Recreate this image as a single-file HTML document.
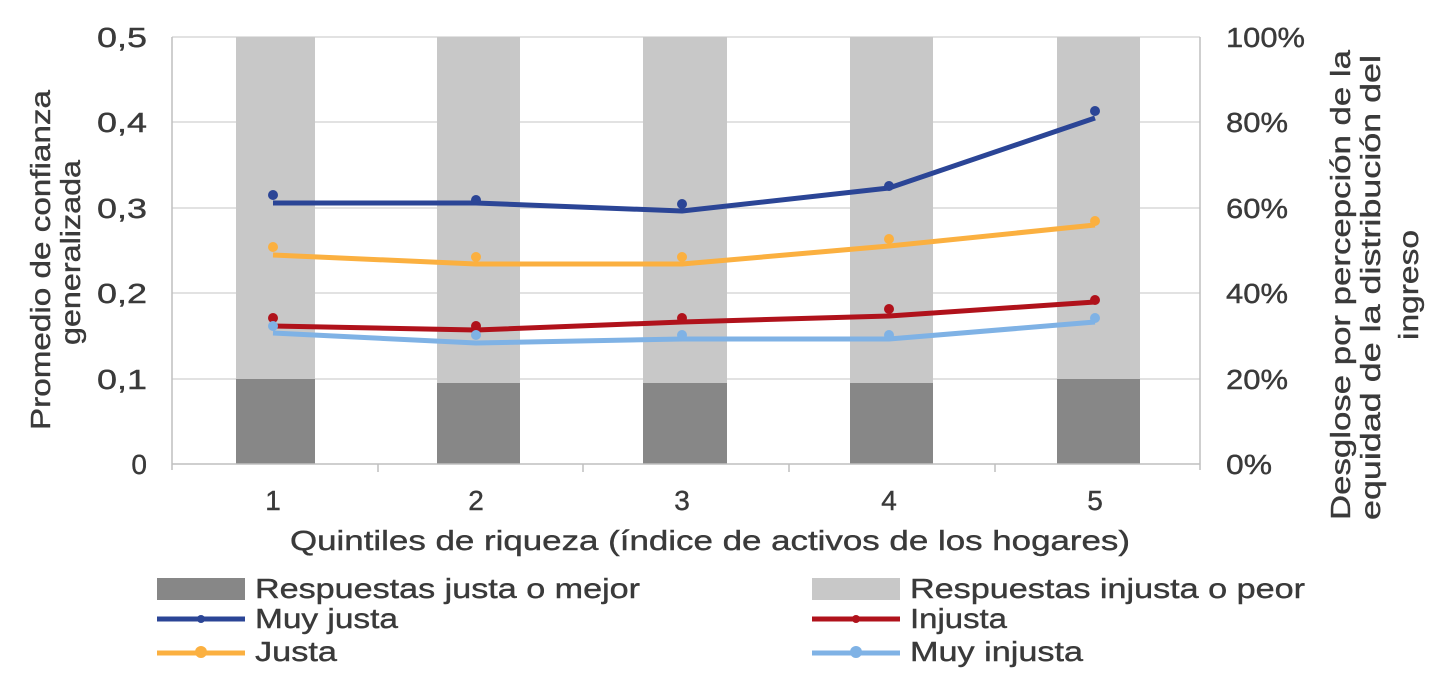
<!DOCTYPE html>
<html><head><meta charset="utf-8"><style>
body{margin:0;background:#fff;}
svg text{font-family:"Liberation Sans",sans-serif;fill:#3a3a3a;stroke:#3a3a3a;stroke-width:0.4;}
</style></head><body>
<svg width="1437" height="670" xmlns="http://www.w3.org/2000/svg">
<g stroke="#d9d9d9" stroke-width="1.5">
<line x1="172" y1="37" x2="1200" y2="37"/><line x1="172" y1="122" x2="1200" y2="122"/>
<line x1="172" y1="208" x2="1200" y2="208"/><line x1="172" y1="293" x2="1200" y2="293"/>
<line x1="172" y1="379" x2="1200" y2="379"/>
</g>
<g fill="#c8c8c8">
<rect x="236" y="37" width="79" height="427"/><rect x="437" y="37" width="83" height="427"/>
<rect x="643" y="37" width="84" height="427"/><rect x="850" y="37" width="83" height="427"/>
<rect x="1057" y="37" width="83" height="427"/>
</g>
<g fill="#878787">
<rect x="236" y="379" width="79" height="85"/><rect x="437" y="383" width="83" height="81"/>
<rect x="643" y="383" width="84" height="81"/><rect x="850" y="383" width="83" height="81"/>
<rect x="1057" y="379" width="83" height="85"/>
</g>
<g stroke="#bfbfbf" stroke-width="1.5">
<line x1="172" y1="37" x2="172" y2="470"/><line x1="1200" y1="37" x2="1200" y2="470"/>
<line x1="172" y1="464" x2="1200" y2="464"/>
<line x1="378" y1="464" x2="378" y2="472"/><line x1="583" y1="464" x2="583" y2="472"/>
<line x1="789" y1="464" x2="789" y2="472"/><line x1="995" y1="464" x2="995" y2="472"/>
</g>
<g fill="none" stroke-width="5" stroke-linejoin="round">
<polyline stroke="#2b4596" points="273,203 476,203 682,211 889,188 1095,118"/>
<polyline stroke="#fbb040" points="273,255 476,264 682,264 889,246 1095,225"/>
<polyline stroke="#b0121b" points="273,326 476,330 682,322 889,316 1095,302"/>
<polyline stroke="#7fb2e5" points="273,333 476,343 682,339 889,339 1095,322"/>
</g>
<g fill="#2b4596"><circle cx="273" cy="195" r="5"/><circle cx="476" cy="200" r="5"/><circle cx="682" cy="204" r="5"/><circle cx="889" cy="186" r="5"/><circle cx="1095" cy="111" r="5"/></g>
<g fill="#fbb040"><circle cx="273" cy="247" r="5"/><circle cx="476" cy="257" r="5"/><circle cx="682" cy="257" r="5"/><circle cx="889" cy="239" r="5"/><circle cx="1095" cy="221" r="5"/></g>
<g fill="#b0121b"><circle cx="273" cy="318" r="5"/><circle cx="476" cy="326" r="5"/><circle cx="682" cy="318" r="5"/><circle cx="889" cy="309" r="5"/><circle cx="1095" cy="300" r="5"/></g>
<g fill="#7fb2e5"><circle cx="273" cy="326" r="5"/><circle cx="476" cy="335" r="5"/><circle cx="682" cy="335" r="5"/><circle cx="889" cy="335" r="5"/><circle cx="1095" cy="318" r="5"/></g>
<g font-size="28" text-anchor="end">
<text x="147" y="47" textLength="50" lengthAdjust="spacingAndGlyphs">0,5</text><text x="147" y="132" textLength="50" lengthAdjust="spacingAndGlyphs">0,4</text><text x="147" y="218" textLength="50" lengthAdjust="spacingAndGlyphs">0,3</text>
<text x="147" y="303" textLength="50" lengthAdjust="spacingAndGlyphs">0,2</text><text x="147" y="389" textLength="50" lengthAdjust="spacingAndGlyphs">0,1</text><text x="147" y="474">0</text>
</g>
<g font-size="28" text-anchor="start">
<text x="1226" y="47" textLength="79" lengthAdjust="spacingAndGlyphs">100%</text><text x="1226" y="132" textLength="62" lengthAdjust="spacingAndGlyphs">80%</text><text x="1226" y="218" textLength="62" lengthAdjust="spacingAndGlyphs">60%</text>
<text x="1226" y="303" textLength="62" lengthAdjust="spacingAndGlyphs">40%</text><text x="1226" y="389" textLength="62" lengthAdjust="spacingAndGlyphs">20%</text><text x="1226" y="474" textLength="46" lengthAdjust="spacingAndGlyphs">0%</text>
</g>
<g font-size="28" text-anchor="middle">
<text x="273" y="510">1</text><text x="476" y="510">2</text><text x="682" y="510">3</text><text x="889" y="510">4</text><text x="1095" y="510">5</text>
</g>
<text font-size="28" x="290" y="550" textLength="840" lengthAdjust="spacingAndGlyphs">Quintiles de riqueza (índice de activos de los hogares)</text>
<text font-size="28" textLength="340" lengthAdjust="spacingAndGlyphs" transform="translate(50,430) rotate(-90)">Promedio de confianza</text>
<text font-size="28" textLength="185" lengthAdjust="spacingAndGlyphs" transform="translate(80,345) rotate(-90)">generalizada</text>
<text font-size="28" textLength="470" lengthAdjust="spacingAndGlyphs" transform="translate(1350,520) rotate(-90)">Desglose por percepción de la</text>
<text font-size="28" textLength="465" lengthAdjust="spacingAndGlyphs" transform="translate(1380,520) rotate(-90)">equidad de la distribución del</text>
<text font-size="28" textLength="110" lengthAdjust="spacingAndGlyphs" transform="translate(1418,340) rotate(-90)">ingreso</text>
<rect x="157" y="578" width="88" height="22" fill="#878787"/>
<rect x="812" y="578" width="88" height="22" fill="#c8c8c8"/>
<g stroke-width="5"><line x1="157" y1="619" x2="245" y2="619" stroke="#2b4596"/><line x1="812" y1="619" x2="900" y2="619" stroke="#b0121b"/>
<line x1="157" y1="653" x2="245" y2="653" stroke="#fbb040"/><line x1="812" y1="653" x2="900" y2="653" stroke="#7fb2e5"/></g>
<circle cx="201" cy="619" r="4" fill="#2b4596"/><circle cx="856" cy="619" r="4" fill="#b0121b"/>
<circle cx="201" cy="652" r="6" fill="#fbb040"/><circle cx="856" cy="652" r="6" fill="#7fb2e5"/>
<g font-size="28">
<text x="255" y="598" textLength="385" lengthAdjust="spacingAndGlyphs">Respuestas justa o mejor</text><text x="910" y="598" textLength="395" lengthAdjust="spacingAndGlyphs">Respuestas injusta o peor</text>
<text x="255" y="628" textLength="143" lengthAdjust="spacingAndGlyphs">Muy justa</text><text x="910" y="628" textLength="97" lengthAdjust="spacingAndGlyphs">Injusta</text>
<text x="255" y="661" textLength="82" lengthAdjust="spacingAndGlyphs">Justa</text><text x="910" y="661" textLength="173" lengthAdjust="spacingAndGlyphs">Muy injusta</text>
</g>
</svg>
</body></html>
